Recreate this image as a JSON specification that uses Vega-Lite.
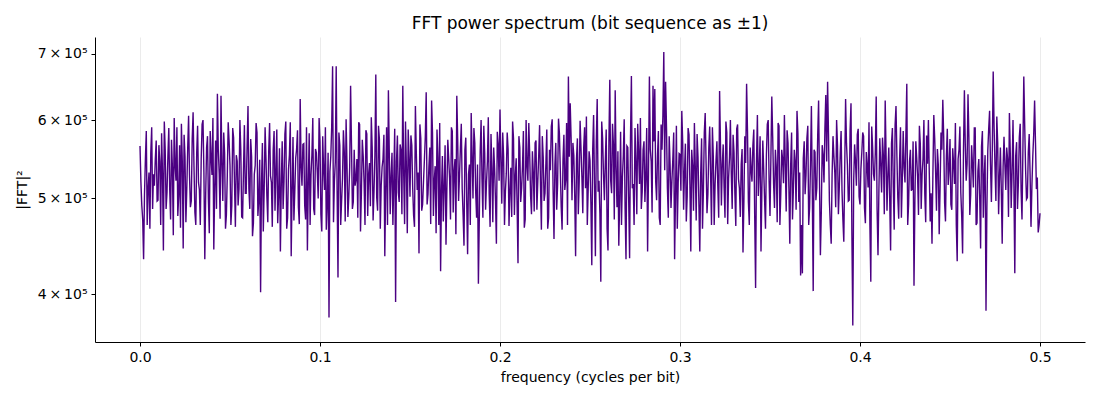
{
  "$schema": "https://vega.github.io/schema/vega-lite/v6.json",
  "width": 990,
  "height": 305,
  "autosize": "none",
  "padding": {"left": 95, "top": 37, "right": 15, "bottom": 58},
  "background": "white",
  "config": {
    "view": {"stroke": null},
    "font": "DejaVu Sans",
    "axis": {
      "labelFont": "DejaVu Sans",
      "titleFont": "DejaVu Sans",
      "labelFontSize": 14,
      "titleFontSize": 14,
      "titleFontWeight": "normal",
      "labelColor": "#000000",
      "titleColor": "#000000",
      "domainColor": "#000000",
      "domainWidth": 1,
      "tickColor": "#000000",
      "tickSize": 4,
      "labelPadding": 4
    }
  },
  "title": {
    "text": "FFT power spectrum (bit sequence as ±1)",
    "font": "DejaVu Sans",
    "fontSize": 17,
    "fontWeight": "normal",
    "color": "#000000",
    "anchor": "middle",
    "offset": 4
  },
  "data": {
    "values": [
      {"f":0.000,"p":565000},{"f":0.001,"p":492000},{"f":0.002,"p":434000},{"f":0.003,"p":548000},{"f":0.004,"p":470000},{"f":0.005,"p":531000},{"f":0.006,"p":556000},{"f":0.007,"p":488000},{"f":0.008,"p":515000},{"f":0.009,"p":572000},
      {"f":0.010,"p":498000},{"f":0.011,"p":545000},{"f":0.012,"p":582000},{"f":0.013,"p":443000},{"f":0.014,"p":560000},{"f":0.015,"p":507000},{"f":0.016,"p":589000},{"f":0.017,"p":476000},{"f":0.018,"p":538000},{"f":0.019,"p":603000},
      {"f":0.020,"p":521000},{"f":0.021,"p":480000},{"f":0.022,"p":566000},{"f":0.023,"p":595000},{"f":0.024,"p":445000},{"f":0.025,"p":552000},{"f":0.026,"p":511000},{"f":0.027,"p":606000},{"f":0.028,"p":490000},{"f":0.029,"p":574000},
      {"f":0.030,"p":538000},{"f":0.031,"p":470000},{"f":0.032,"p":592000},{"f":0.033,"p":510000},{"f":0.034,"p":548000},{"f":0.035,"p":600000},{"f":0.036,"p":434000},{"f":0.037,"p":563000},{"f":0.038,"p":499000},{"f":0.039,"p":585000},
      {"f":0.040,"p":528000},{"f":0.041,"p":444000},{"f":0.042,"p":572000},{"f":0.043,"p":638000},{"f":0.044,"p":530000},{"f":0.045,"p":635000},{"f":0.046,"p":497000},{"f":0.047,"p":556000},{"f":0.048,"p":481000},{"f":0.049,"p":597000},
      {"f":0.050,"p":540000},{"f":0.051,"p":492000},{"f":0.052,"p":576000},{"f":0.053,"p":468000},{"f":0.054,"p":545000},{"f":0.055,"p":511000},{"f":0.056,"p":560000},{"f":0.057,"p":478000},{"f":0.058,"p":593000},{"f":0.059,"p":506000},
      {"f":0.060,"p":620000},{"f":0.061,"p":488000},{"f":0.062,"p":551000},{"f":0.063,"p":472000},{"f":0.064,"p":540000},{"f":0.065,"p":583000},{"f":0.066,"p":499000},{"f":0.067,"p":402000},{"f":0.068,"p":569000},{"f":0.069,"p":512000},
      {"f":0.070,"p":548000},{"f":0.071,"p":473000},{"f":0.072,"p":596000},{"f":0.073,"p":519000},{"f":0.074,"p":560000},{"f":0.075,"p":486000},{"f":0.076,"p":587000},{"f":0.077,"p":505000},{"f":0.078,"p":442000},{"f":0.079,"p":571000},
      {"f":0.080,"p":520000},{"f":0.081,"p":598000},{"f":0.082,"p":478000},{"f":0.083,"p":553000},{"f":0.084,"p":437000},{"f":0.085,"p":577000},{"f":0.086,"p":508000},{"f":0.087,"p":561000},{"f":0.088,"p":490000},{"f":0.089,"p":630000},
      {"f":0.090,"p":515000},{"f":0.091,"p":568000},{"f":0.092,"p":476000},{"f":0.093,"p":443000},{"f":0.094,"p":582000},{"f":0.095,"p":528000},{"f":0.096,"p":603000},{"f":0.097,"p":481000},{"f":0.098,"p":556000},{"f":0.099,"p":500000},
      {"f":0.100,"p":571000},{"f":0.101,"p":463000},{"f":0.102,"p":534000},{"f":0.103,"p":590000},{"f":0.104,"p":495000},{"f":0.105,"p":379000},{"f":0.106,"p":552000},{"f":0.107,"p":680000},{"f":0.108,"p":520000},{"f":0.109,"p":680000},
      {"f":0.110,"p":416000},{"f":0.111,"p":566000},{"f":0.112,"p":497000},{"f":0.113,"p":586000},{"f":0.114,"p":474000},{"f":0.115,"p":541000},{"f":0.116,"p":502000},{"f":0.117,"p":650000},{"f":0.118,"p":488000},{"f":0.119,"p":560000},
      {"f":0.120,"p":523000},{"f":0.121,"p":478000},{"f":0.122,"p":594000},{"f":0.123,"p":506000},{"f":0.124,"p":552000},{"f":0.125,"p":470000},{"f":0.126,"p":581000},{"f":0.127,"p":529000},{"f":0.128,"p":491000},{"f":0.129,"p":563000},
      {"f":0.130,"p":508000},{"f":0.131,"p":667000},{"f":0.132,"p":486000},{"f":0.133,"p":574000},{"f":0.134,"p":515000},{"f":0.135,"p":548000},{"f":0.136,"p":437000},{"f":0.137,"p":590000},{"f":0.138,"p":643000},{"f":0.139,"p":482000},
      {"f":0.140,"p":556000},{"f":0.141,"p":523000},{"f":0.142,"p":393000},{"f":0.143,"p":579000},{"f":0.144,"p":496000},{"f":0.145,"p":560000},{"f":0.146,"p":650000},{"f":0.147,"p":471000},{"f":0.148,"p":538000},{"f":0.149,"p":587000},
      {"f":0.150,"p":502000},{"f":0.151,"p":566000},{"f":0.152,"p":481000},{"f":0.153,"p":620000},{"f":0.154,"p":510000},{"f":0.155,"p":440000},{"f":0.156,"p":575000},{"f":0.157,"p":493000},{"f":0.158,"p":547000},{"f":0.159,"p":640000},
      {"f":0.160,"p":505000},{"f":0.161,"p":563000},{"f":0.162,"p":628000},{"f":0.163,"p":480000},{"f":0.164,"p":539000},{"f":0.165,"p":587000},{"f":0.166,"p":470000},{"f":0.167,"p":422000},{"f":0.168,"p":552000},{"f":0.169,"p":515000},
      {"f":0.170,"p":449000},{"f":0.171,"p":573000},{"f":0.172,"p":524000},{"f":0.173,"p":590000},{"f":0.174,"p":484000},{"f":0.175,"p":548000},{"f":0.176,"p":635000},{"f":0.177,"p":497000},{"f":0.178,"p":562000},{"f":0.179,"p":511000},
      {"f":0.180,"p":448000},{"f":0.181,"p":576000},{"f":0.182,"p":439000},{"f":0.183,"p":541000},{"f":0.184,"p":610000},{"f":0.185,"p":500000},{"f":0.186,"p":569000},{"f":0.187,"p":478000},{"f":0.188,"p":410000},{"f":0.189,"p":558000},
      {"f":0.190,"p":523000},{"f":0.191,"p":592000},{"f":0.192,"p":487000},{"f":0.193,"p":545000},{"f":0.194,"p":505000},{"f":0.195,"p":581000},{"f":0.196,"p":473000},{"f":0.197,"p":536000},{"f":0.198,"p":450000},{"f":0.199,"p":567000},
      {"f":0.200,"p":615000},{"f":0.201,"p":494000},{"f":0.202,"p":552000},{"f":0.203,"p":508000},{"f":0.204,"p":583000},{"f":0.205,"p":469000},{"f":0.206,"p":537000},{"f":0.207,"p":598000},{"f":0.208,"p":481000},{"f":0.209,"p":549000},
      {"f":0.210,"p":430000},{"f":0.211,"p":563000},{"f":0.212,"p":512000},{"f":0.213,"p":585000},{"f":0.214,"p":476000},{"f":0.215,"p":540000},{"f":0.216,"p":596000},{"f":0.217,"p":503000},{"f":0.218,"p":558000},{"f":0.219,"p":485000},
      {"f":0.220,"p":572000},{"f":0.221,"p":520000},{"f":0.222,"p":593000},{"f":0.223,"p":465000},{"f":0.224,"p":551000},{"f":0.225,"p":506000},{"f":0.226,"p":587000},{"f":0.227,"p":478000},{"f":0.228,"p":534000},{"f":0.229,"p":601000},
      {"f":0.230,"p":455000},{"f":0.231,"p":569000},{"f":0.232,"p":516000},{"f":0.233,"p":582000},{"f":0.234,"p":490000},{"f":0.235,"p":547000},{"f":0.236,"p":510000},{"f":0.237,"p":596000},{"f":0.238,"p":664000},{"f":0.239,"p":624000},
      {"f":0.240,"p":498000},{"f":0.241,"p":553000},{"f":0.242,"p":437000},{"f":0.243,"p":575000},{"f":0.244,"p":520000},{"f":0.245,"p":562000},{"f":0.246,"p":483000},{"f":0.247,"p":590000},{"f":0.248,"p":605000},{"f":0.249,"p":511000},
      {"f":0.250,"p":546000},{"f":0.251,"p":428000},{"f":0.252,"p":607000},{"f":0.253,"p":437000},{"f":0.254,"p":630000},{"f":0.255,"p":521000},{"f":0.256,"p":412000},{"f":0.257,"p":575000},{"f":0.258,"p":498000},{"f":0.259,"p":587000},
      {"f":0.260,"p":443000},{"f":0.261,"p":659000},{"f":0.262,"p":506000},{"f":0.263,"p":568000},{"f":0.264,"p":643000},{"f":0.265,"p":490000},{"f":0.266,"p":448000},{"f":0.267,"p":584000},{"f":0.268,"p":525000},{"f":0.269,"p":601000},
      {"f":0.270,"p":434000},{"f":0.271,"p":563000},{"f":0.272,"p":435000},{"f":0.273,"p":665000},{"f":0.274,"p":517000},{"f":0.275,"p":589000},{"f":0.276,"p":482000},{"f":0.277,"p":556000},{"f":0.278,"p":603000},{"f":0.279,"p":508000},
      {"f":0.280,"p":571000},{"f":0.281,"p":527000},{"f":0.282,"p":442000},{"f":0.283,"p":664000},{"f":0.284,"p":545000},{"f":0.285,"p":650000},{"f":0.286,"p":645000},{"f":0.287,"p":498000},{"f":0.288,"p":585000},{"f":0.289,"p":470000},
      {"f":0.290,"p":560000},{"f":0.291,"p":703000},{"f":0.292,"p":656000},{"f":0.293,"p":512000},{"f":0.294,"p":578000},{"f":0.295,"p":489000},{"f":0.296,"p":547000},{"f":0.297,"p":434000},{"f":0.298,"p":592000},{"f":0.299,"p":519000},
      {"f":0.300,"p":554000},{"f":0.301,"p":613000},{"f":0.302,"p":487000},{"f":0.303,"p":568000},{"f":0.304,"p":503000},{"f":0.305,"p":580000},{"f":0.306,"p":442000},{"f":0.307,"p":539000},{"f":0.308,"p":596000},{"f":0.309,"p":475000},
      {"f":0.310,"p":551000},{"f":0.311,"p":442000},{"f":0.312,"p":575000},{"f":0.313,"p":509000},{"f":0.314,"p":610000},{"f":0.315,"p":483000},{"f":0.316,"p":562000},{"f":0.317,"p":528000},{"f":0.318,"p":590000},{"f":0.319,"p":470000},
      {"f":0.320,"p":546000},{"f":0.321,"p":515000},{"f":0.322,"p":642000},{"f":0.323,"p":492000},{"f":0.324,"p":567000},{"f":0.325,"p":478000},{"f":0.326,"p":583000},{"f":0.327,"p":524000},{"f":0.328,"p":600000},{"f":0.329,"p":488000},
      {"f":0.330,"p":557000},{"f":0.331,"p":469000},{"f":0.332,"p":594000},{"f":0.333,"p":512000},{"f":0.334,"p":541000},{"f":0.335,"p":441000},{"f":0.336,"p":578000},{"f":0.337,"p":653000},{"f":0.338,"p":496000},{"f":0.339,"p":563000},
      {"f":0.340,"p":520000},{"f":0.341,"p":587000},{"f":0.342,"p":406000},{"f":0.343,"p":607000},{"f":0.344,"p":535000},{"f":0.345,"p":442000},{"f":0.346,"p":572000},{"f":0.347,"p":498000},{"f":0.348,"p":553000},{"f":0.349,"p":600000},
      {"f":0.350,"p":480000},{"f":0.351,"p":634000},{"f":0.352,"p":517000},{"f":0.353,"p":560000},{"f":0.354,"p":473000},{"f":0.355,"p":592000},{"f":0.356,"p":506000},{"f":0.357,"p":548000},{"f":0.358,"p":607000},{"f":0.359,"p":485000},
      {"f":0.360,"p":569000},{"f":0.361,"p":450000},{"f":0.362,"p":583000},{"f":0.363,"p":512000},{"f":0.364,"p":545000},{"f":0.365,"p":613000},{"f":0.366,"p":496000},{"f":0.367,"p":418000},{"f":0.368,"p":420000},{"f":0.369,"p":571000},
      {"f":0.370,"p":528000},{"f":0.371,"p":592000},{"f":0.372,"p":489000},{"f":0.373,"p":620000},{"f":0.374,"p":403000},{"f":0.375,"p":557000},{"f":0.376,"p":512000},{"f":0.377,"p":628000},{"f":0.378,"p":438000},{"f":0.379,"p":566000},
      {"f":0.380,"p":519000},{"f":0.381,"p":636000},{"f":0.382,"p":656000},{"f":0.383,"p":497000},{"f":0.384,"p":450000},{"f":0.385,"p":578000},{"f":0.386,"p":531000},{"f":0.387,"p":600000},{"f":0.388,"p":482000},{"f":0.389,"p":554000},
      {"f":0.390,"p":510000},{"f":0.391,"p":452000},{"f":0.392,"p":630000},{"f":0.393,"p":541000},{"f":0.394,"p":498000},{"f":0.395,"p":624000},{"f":0.396,"p":372000},{"f":0.397,"p":567000},{"f":0.398,"p":515000},{"f":0.399,"p":588000},
      {"f":0.400,"p":493000},{"f":0.401,"p":556000},{"f":0.402,"p":578000},{"f":0.403,"p":472000},{"f":0.404,"p":539000},{"f":0.405,"p":597000},{"f":0.406,"p":412000},{"f":0.407,"p":564000},{"f":0.408,"p":521000},{"f":0.409,"p":634000},
      {"f":0.410,"p":438000},{"f":0.411,"p":575000},{"f":0.412,"p":507000},{"f":0.413,"p":552000},{"f":0.414,"p":628000},{"f":0.415,"p":486000},{"f":0.416,"p":563000},{"f":0.417,"p":443000},{"f":0.418,"p":589000},{"f":0.419,"p":465000},
      {"f":0.420,"p":620000},{"f":0.421,"p":501000},{"f":0.422,"p":547000},{"f":0.423,"p":478000},{"f":0.424,"p":585000},{"f":0.425,"p":519000},{"f":0.426,"p":653000},{"f":0.427,"p":493000},{"f":0.428,"p":560000},{"f":0.429,"p":512000},
      {"f":0.430,"p":408000},{"f":0.431,"p":571000},{"f":0.432,"p":526000},{"f":0.433,"p":592000},{"f":0.434,"p":488000},{"f":0.435,"p":548000},{"f":0.436,"p":505000},{"f":0.437,"p":579000},{"f":0.438,"p":600000},{"f":0.439,"p":474000},
      {"f":0.440,"p":450000},{"f":0.441,"p":607000},{"f":0.442,"p":532000},{"f":0.443,"p":561000},{"f":0.444,"p":460000},{"f":0.445,"p":583000},{"f":0.446,"p":629000},{"f":0.447,"p":495000},{"f":0.448,"p":552000},{"f":0.449,"p":516000},
      {"f":0.450,"p":574000},{"f":0.451,"p":487000},{"f":0.452,"p":542000},{"f":0.453,"p":596000},{"f":0.454,"p":432000},{"f":0.455,"p":560000},{"f":0.456,"p":507000},{"f":0.457,"p":440000},{"f":0.458,"p":643000},{"f":0.459,"p":521000},
      {"f":0.460,"p":637000},{"f":0.461,"p":481000},{"f":0.462,"p":566000},{"f":0.463,"p":513000},{"f":0.464,"p":589000},{"f":0.465,"p":472000},{"f":0.466,"p":548000},{"f":0.467,"p":445000},{"f":0.468,"p":585000},{"f":0.469,"p":527000},
      {"f":0.470,"p":385000},{"f":0.471,"p":559000},{"f":0.472,"p":613000},{"f":0.473,"p":496000},{"f":0.474,"p":672000},{"f":0.475,"p":538000},{"f":0.476,"p":605000},{"f":0.477,"p":482000},{"f":0.478,"p":563000},{"f":0.479,"p":450000},
      {"f":0.480,"p":577000},{"f":0.481,"p":510000},{"f":0.482,"p":548000},{"f":0.483,"p":610000},{"f":0.484,"p":489000},{"f":0.485,"p":600000},{"f":0.486,"p":420000},{"f":0.487,"p":570000},{"f":0.488,"p":519000},{"f":0.489,"p":595000},
      {"f":0.490,"p":476000},{"f":0.491,"p":664000},{"f":0.492,"p":535000},{"f":0.493,"p":501000},{"f":0.494,"p":581000},{"f":0.495,"p":468000},{"f":0.496,"p":552000},{"f":0.497,"p":628000},{"f":0.498,"p":511000},{"f":0.499,"p":462000},
      {"f":0.500,"p":483000},
      {"f":0.0005,"p":520000},{"f":0.0015,"p":476000},{"f":0.0025,"p":505000},{"f":0.0035,"p":585000},{"f":0.0045,"p":512000},{"f":0.0055,"p":466000},{"f":0.0065,"p":590000},{"f":0.0075,"p":529000},{"f":0.0085,"p":548000},{"f":0.0095,"p":497000},
      {"f":0.0105,"p":566000},{"f":0.0115,"p":470000},{"f":0.0125,"p":531000},{"f":0.0135,"p":598000},{"f":0.0145,"p":488000},{"f":0.0155,"p":552000},{"f":0.0165,"p":511000},{"f":0.0175,"p":573000},{"f":0.0185,"p":459000},{"f":0.0195,"p":540000},
      {"f":0.0205,"p":590000},{"f":0.0215,"p":503000},{"f":0.0225,"p":467000},{"f":0.0235,"p":545000},{"f":0.0245,"p":580000},{"f":0.0255,"p":473000},{"f":0.0265,"p":562000},{"f":0.0275,"p":528000},{"f":0.0285,"p":497000},{"f":0.0295,"p":611000},
      {"f":0.0305,"p":484000},{"f":0.0315,"p":556000},{"f":0.0325,"p":519000},{"f":0.0335,"p":470000},{"f":0.0345,"p":594000},{"f":0.0355,"p":532000},{"f":0.0365,"p":505000},{"f":0.0375,"p":578000},{"f":0.0385,"p":461000},{"f":0.0395,"p":549000},
      {"f":0.0405,"p":603000},{"f":0.0415,"p":512000},{"f":0.0425,"p":488000},{"f":0.0435,"p":560000},{"f":0.0445,"p":477000},{"f":0.0455,"p":541000},{"f":0.0465,"p":583000},{"f":0.0475,"p":466000},{"f":0.0485,"p":527000},{"f":0.0495,"p":571000},
      {"f":0.0505,"p":470000},{"f":0.0515,"p":589000},{"f":0.0525,"p":518000},{"f":0.0535,"p":553000},{"f":0.0545,"p":492000},{"f":0.0555,"p":600000},{"f":0.0565,"p":479000},{"f":0.0575,"p":535000},{"f":0.0585,"p":506000},{"f":0.0595,"p":565000},
      {"f":0.0605,"p":511000},{"f":0.0615,"p":574000},{"f":0.0625,"p":458000},{"f":0.0635,"p":529000},{"f":0.0645,"p":596000},{"f":0.0655,"p":480000},{"f":0.0665,"p":547000},{"f":0.0675,"p":518000},{"f":0.0685,"p":463000},{"f":0.0695,"p":590000},
      {"f":0.0705,"p":502000},{"f":0.0715,"p":557000},{"f":0.0725,"p":527000},{"f":0.0735,"p":468000},{"f":0.0745,"p":585000},{"f":0.0755,"p":533000},{"f":0.0765,"p":472000},{"f":0.0775,"p":562000},{"f":0.0785,"p":517000},{"f":0.0795,"p":488000},
      {"f":0.0805,"p":581000},{"f":0.0815,"p":466000},{"f":0.0825,"p":535000},{"f":0.0835,"p":597000},{"f":0.0845,"p":509000},{"f":0.0855,"p":475000},{"f":0.0865,"p":549000},{"f":0.0875,"p":586000},{"f":0.0885,"p":471000},{"f":0.0895,"p":538000},
      {"f":0.0905,"p":567000},{"f":0.0915,"p":492000},{"f":0.0925,"p":590000},{"f":0.0935,"p":518000},{"f":0.0945,"p":470000},{"f":0.0955,"p":553000},{"f":0.0965,"p":488000},{"f":0.0975,"p":561000},{"f":0.0985,"p":531000},{"f":0.0995,"p":603000},
      {"f":0.1005,"p":482000},{"f":0.1015,"p":578000},{"f":0.1025,"p":510000},{"f":0.1035,"p":465000},{"f":0.1045,"p":556000},{"f":0.1055,"p":532000},{"f":0.1065,"p":591000},{"f":0.1075,"p":473000},{"f":0.1085,"p":544000},{"f":0.1095,"p":509000},
      {"f":0.1105,"p":583000},{"f":0.1115,"p":470000},{"f":0.1125,"p":524000},{"f":0.1135,"p":557000},{"f":0.1145,"p":601000},{"f":0.1155,"p":479000},{"f":0.1165,"p":538000},{"f":0.1175,"p":566000},{"f":0.1185,"p":496000},{"f":0.1195,"p":515000},
      {"f":0.1205,"p":548000},{"f":0.1215,"p":597000},{"f":0.1225,"p":463000},{"f":0.1235,"p":573000},{"f":0.1245,"p":519000},{"f":0.1255,"p":586000},{"f":0.1265,"p":480000},{"f":0.1275,"p":543000},{"f":0.1285,"p":604000},{"f":0.1295,"p":475000},
      {"f":0.1305,"p":553000},{"f":0.1315,"p":501000},{"f":0.1325,"p":592000},{"f":0.1335,"p":466000},{"f":0.1345,"p":538000},{"f":0.1355,"p":580000},{"f":0.1365,"p":512000},{"f":0.1375,"p":470000},{"f":0.1385,"p":555000},{"f":0.1395,"p":527000},
      {"f":0.1405,"p":470000},{"f":0.1415,"p":588000},{"f":0.1425,"p":545000},{"f":0.1435,"p":507000},{"f":0.1445,"p":567000},{"f":0.1455,"p":482000},{"f":0.1465,"p":529000},{"f":0.1475,"p":598000},{"f":0.1485,"p":461000},{"f":0.1495,"p":550000},
      {"f":0.1505,"p":579000},{"f":0.1515,"p":512000},{"f":0.1525,"p":468000},{"f":0.1535,"p":557000},{"f":0.1545,"p":531000},{"f":0.1555,"p":594000},{"f":0.1565,"p":486000},{"f":0.1575,"p":520000},{"f":0.1585,"p":577000},{"f":0.1595,"p":493000},
      {"f":0.1605,"p":538000},{"f":0.1615,"p":471000},{"f":0.1625,"p":583000},{"f":0.1635,"p":522000},{"f":0.1645,"p":461000},{"f":0.1655,"p":550000},{"f":0.1665,"p":596000},{"f":0.1675,"p":509000},{"f":0.1685,"p":474000},{"f":0.1695,"p":566000},
      {"f":0.1705,"p":512000},{"f":0.1715,"p":549000},{"f":0.1725,"p":476000},{"f":0.1735,"p":585000},{"f":0.1745,"p":533000},{"f":0.1755,"p":460000},{"f":0.1765,"p":574000},{"f":0.1775,"p":528000},{"f":0.1785,"p":595000},{"f":0.1795,"p":481000},
      {"f":0.1805,"p":560000},{"f":0.1815,"p":497000},{"f":0.1825,"p":529000},{"f":0.1835,"p":470000},{"f":0.1845,"p":552000},{"f":0.1855,"p":589000},{"f":0.1865,"p":507000},{"f":0.1875,"p":541000},{"f":0.1885,"p":476000},{"f":0.1895,"p":600000},
      {"f":0.1905,"p":478000},{"f":0.1915,"p":556000},{"f":0.1925,"p":519000},{"f":0.1935,"p":604000},{"f":0.1945,"p":468000},{"f":0.1955,"p":537000},{"f":0.1965,"p":563000},{"f":0.1975,"p":497000},{"f":0.1985,"p":584000},{"f":0.1995,"p":521000},
      {"f":0.2005,"p":545000},{"f":0.2015,"p":583000},{"f":0.2025,"p":470000},{"f":0.2035,"p":530000},{"f":0.2045,"p":561000},{"f":0.2055,"p":508000},{"f":0.2065,"p":479000},{"f":0.2075,"p":575000},{"f":0.2085,"p":527000},{"f":0.2095,"p":492000},
      {"f":0.2105,"p":578000},{"f":0.2115,"p":496000},{"f":0.2125,"p":539000},{"f":0.2135,"p":467000},{"f":0.2145,"p":600000},{"f":0.2155,"p":521000},{"f":0.2165,"p":554000},{"f":0.2175,"p":482000},{"f":0.2185,"p":531000},{"f":0.2195,"p":569000},
      {"f":0.2205,"p":487000},{"f":0.2215,"p":552000},{"f":0.2225,"p":515000},{"f":0.2235,"p":578000},{"f":0.2245,"p":497000},{"f":0.2255,"p":543000},{"f":0.2265,"p":466000},{"f":0.2275,"p":560000},{"f":0.2285,"p":591000},{"f":0.2295,"p":510000},
      {"f":0.2305,"p":540000},{"f":0.2315,"p":487000},{"f":0.2325,"p":602000},{"f":0.2335,"p":535000},{"f":0.2345,"p":465000},{"f":0.2355,"p":580000},{"f":0.2365,"p":522000},{"f":0.2375,"p":470000},{"f":0.2385,"p":551000},{"f":0.2395,"p":576000},
      {"f":0.2405,"p":569000},{"f":0.2415,"p":505000},{"f":0.2425,"p":548000},{"f":0.2435,"p":482000},{"f":0.2445,"p":599000},{"f":0.2455,"p":526000},{"f":0.2465,"p":563000},{"f":0.2475,"p":512000},{"f":0.2485,"p":470000},{"f":0.2495,"p":558000},
      {"f":0.2505,"p":494000},{"f":0.2515,"p":560000},{"f":0.2525,"p":517000},{"f":0.2535,"p":571000},{"f":0.2545,"p":508000},{"f":0.2555,"p":483000},{"f":0.2565,"p":598000},{"f":0.2575,"p":529000},{"f":0.2585,"p":545000},{"f":0.2595,"p":466000},
      {"f":0.2605,"p":570000},{"f":0.2615,"p":521000},{"f":0.2625,"p":595000},{"f":0.2635,"p":476000},{"f":0.2645,"p":537000},{"f":0.2655,"p":558000},{"f":0.2665,"p":500000},{"f":0.2675,"p":470000},{"f":0.2685,"p":552000},{"f":0.2695,"p":488000},
      {"f":0.2705,"p":565000},{"f":0.2715,"p":497000},{"f":0.2725,"p":576000},{"f":0.2735,"p":512000},{"f":0.2745,"p":470000},{"f":0.2755,"p":546000},{"f":0.2765,"p":595000},{"f":0.2775,"p":517000},{"f":0.2785,"p":488000},{"f":0.2795,"p":560000},
      {"f":0.2805,"p":496000},{"f":0.2815,"p":589000},{"f":0.2825,"p":531000},{"f":0.2835,"p":560000},{"f":0.2845,"p":484000},{"f":0.2855,"p":571000},{"f":0.2865,"p":520000},{"f":0.2875,"p":553000},{"f":0.2885,"p":478000},{"f":0.2895,"p":594000},
      {"f":0.2905,"p":607000},{"f":0.2915,"p":534000},{"f":0.2925,"p":590000},{"f":0.2935,"p":478000},{"f":0.2945,"p":541000},{"f":0.2955,"p":520000},{"f":0.2965,"p":583000},{"f":0.2975,"p":502000},{"f":0.2985,"p":466000},{"f":0.2995,"p":555000},
      {"f":0.3005,"p":509000},{"f":0.3015,"p":570000},{"f":0.3025,"p":532000},{"f":0.3035,"p":474000},{"f":0.3045,"p":589000},{"f":0.3055,"p":517000},{"f":0.3065,"p":560000},{"f":0.3075,"p":486000},{"f":0.3085,"p":538000},{"f":0.3095,"p":581000},
      {"f":0.3105,"p":493000},{"f":0.3115,"p":530000},{"f":0.3125,"p":466000},{"f":0.3135,"p":583000},{"f":0.3145,"p":542000},{"f":0.3155,"p":505000},{"f":0.3165,"p":591000},{"f":0.3175,"p":470000},{"f":0.3185,"p":552000},{"f":0.3195,"p":517000},
      {"f":0.3205,"p":571000},{"f":0.3215,"p":478000},{"f":0.3225,"p":566000},{"f":0.3235,"p":541000},{"f":0.3245,"p":513000},{"f":0.3255,"p":598000},{"f":0.3265,"p":471000},{"f":0.3275,"p":550000},{"f":0.3285,"p":529000},{"f":0.3295,"p":580000},
      {"f":0.3305,"p":505000},{"f":0.3315,"p":588000},{"f":0.3325,"p":523000},{"f":0.3335,"p":479000},{"f":0.3345,"p":561000},{"f":0.3355,"p":497000},{"f":0.3365,"p":543000},{"f":0.3375,"p":585000},{"f":0.3385,"p":470000},{"f":0.3395,"p":534000},
      {"f":0.3405,"p":566000},{"f":0.3415,"p":480000},{"f":0.3425,"p":545000},{"f":0.3435,"p":503000},{"f":0.3445,"p":578000},{"f":0.3455,"p":512000},{"f":0.3465,"p":535000},{"f":0.3475,"p":466000},{"f":0.3485,"p":594000},{"f":0.3495,"p":521000},
      {"f":0.3505,"p":550000},{"f":0.3515,"p":577000},{"f":0.3525,"p":489000},{"f":0.3535,"p":538000},{"f":0.3545,"p":596000},{"f":0.3555,"p":470000},{"f":0.3565,"p":560000},{"f":0.3575,"p":518000},{"f":0.3585,"p":541000},{"f":0.3595,"p":586000},
      {"f":0.3605,"p":512000},{"f":0.3615,"p":541000},{"f":0.3625,"p":476000},{"f":0.3635,"p":560000},{"f":0.3645,"p":487000},{"f":0.3655,"p":582000},{"f":0.3665,"p":531000},{"f":0.3675,"p":470000},{"f":0.3685,"p":549000},{"f":0.3695,"p":505000},
      {"f":0.3705,"p":575000},{"f":0.3715,"p":470000},{"f":0.3725,"p":541000},{"f":0.3735,"p":509000},{"f":0.3745,"p":560000},{"f":0.3755,"p":498000},{"f":0.3765,"p":579000},{"f":0.3775,"p":521000},{"f":0.3785,"p":484000},{"f":0.3795,"p":553000},
      {"f":0.3805,"p":588000},{"f":0.3815,"p":545000},{"f":0.3825,"p":581000},{"f":0.3835,"p":470000},{"f":0.3845,"p":528000},{"f":0.3855,"p":552000},{"f":0.3865,"p":490000},{"f":0.3875,"p":566000},{"f":0.3885,"p":513000},{"f":0.3895,"p":585000},
      {"f":0.3905,"p":476000},{"f":0.3915,"p":534000},{"f":0.3925,"p":568000},{"f":0.3935,"p":497000},{"f":0.3945,"p":586000},{"f":0.3955,"p":459000},{"f":0.3965,"p":521000},{"f":0.3975,"p":545000},{"f":0.3985,"p":580000},{"f":0.3995,"p":502000},
      {"f":0.4005,"p":535000},{"f":0.4015,"p":583000},{"f":0.4025,"p":489000},{"f":0.4035,"p":557000},{"f":0.4045,"p":513000},{"f":0.4055,"p":470000},{"f":0.4065,"p":591000},{"f":0.4075,"p":529000},{"f":0.4085,"p":556000},{"f":0.4095,"p":487000},
      {"f":0.4105,"p":509000},{"f":0.4115,"p":541000},{"f":0.4125,"p":576000},{"f":0.4135,"p":482000},{"f":0.4145,"p":552000},{"f":0.4155,"p":530000},{"f":0.4165,"p":499000},{"f":0.4175,"p":568000},{"f":0.4185,"p":514000},{"f":0.4195,"p":593000},
      {"f":0.4205,"p":552000},{"f":0.4215,"p":477000},{"f":0.4225,"p":590000},{"f":0.4235,"p":523000},{"f":0.4245,"p":537000},{"f":0.4255,"p":581000},{"f":0.4265,"p":470000},{"f":0.4275,"p":545000},{"f":0.4285,"p":509000},{"f":0.4295,"p":571000},
      {"f":0.4305,"p":497000},{"f":0.4315,"p":550000},{"f":0.4325,"p":481000},{"f":0.4335,"p":568000},{"f":0.4345,"p":529000},{"f":0.4355,"p":600000},{"f":0.4365,"p":473000},{"f":0.4375,"p":542000},{"f":0.4385,"p":530000},{"f":0.4395,"p":506000},
      {"f":0.4405,"p":529000},{"f":0.4415,"p":575000},{"f":0.4425,"p":486000},{"f":0.4435,"p":541000},{"f":0.4445,"p":513000},{"f":0.4455,"p":560000},{"f":0.4465,"p":578000},{"f":0.4475,"p":474000},{"f":0.4485,"p":588000},{"f":0.4495,"p":535000},
      {"f":0.4505,"p":493000},{"f":0.4515,"p":562000},{"f":0.4525,"p":517000},{"f":0.4535,"p":470000},{"f":0.4545,"p":548000},{"f":0.4555,"p":591000},{"f":0.4565,"p":480000},{"f":0.4575,"p":561000},{"f":0.4585,"p":566000},{"f":0.4595,"p":542000},
      {"f":0.4605,"p":577000},{"f":0.4615,"p":505000},{"f":0.4625,"p":540000},{"f":0.4635,"p":589000},{"f":0.4645,"p":470000},{"f":0.4655,"p":533000},{"f":0.4665,"p":501000},{"f":0.4675,"p":564000},{"f":0.4685,"p":478000},{"f":0.4695,"p":553000},
      {"f":0.4705,"p":490000},{"f":0.4715,"p":588000},{"f":0.4725,"p":541000},{"f":0.4735,"p":560000},{"f":0.4745,"p":590000},{"f":0.4755,"p":497000},{"f":0.4765,"p":569000},{"f":0.4775,"p":526000},{"f":0.4785,"p":510000},{"f":0.4795,"p":538000},
      {"f":0.4805,"p":541000},{"f":0.4815,"p":563000},{"f":0.4825,"p":479000},{"f":0.4835,"p":555000},{"f":0.4845,"p":532000},{"f":0.4855,"p":515000},{"f":0.4865,"p":552000},{"f":0.4875,"p":488000},{"f":0.4885,"p":576000},{"f":0.4895,"p":509000},
      {"f":0.4905,"p":560000},{"f":0.4915,"p":593000},{"f":0.4925,"p":499000},{"f":0.4935,"p":557000},{"f":0.4945,"p":529000},{"f":0.4955,"p":514000},{"f":0.4965,"p":580000},{"f":0.4975,"p":569000},{"f":0.4985,"p":525000},{"f":0.4995,"p":470000}
    ]
  },
  "mark": {"type": "line", "color": "#4B0082", "strokeWidth": 1.4},
  "encoding": {
    "x": {
      "field": "f",
      "type": "quantitative",
      "title": "frequency (cycles per bit)",
      "scale": {"domain": [-0.025, 0.525], "nice": false, "zero": false},
      "axis": {
        "values": [0, 0.1, 0.2, 0.3, 0.4, 0.5],
        "format": ".1f",
        "grid": true,
        "gridColor": "#e6e6e6",
        "gridWidth": 0.8,
        "titlePadding": 6
      }
    },
    "y": {
      "field": "p",
      "type": "quantitative",
      "title": "|FFT|²",
      "scale": {"type": "log", "domain": [358000, 728000], "nice": false},
      "axis": {
        "values": [400000, 500000, 600000, 700000],
        "labelExpr": "format(datum.value / 100000, 'd') + '\u2009×\u200910⁵'",
        "grid": false,
        "titlePadding": 8
      }
    },
    "order": {"field": "f", "type": "quantitative"}
  }
}
